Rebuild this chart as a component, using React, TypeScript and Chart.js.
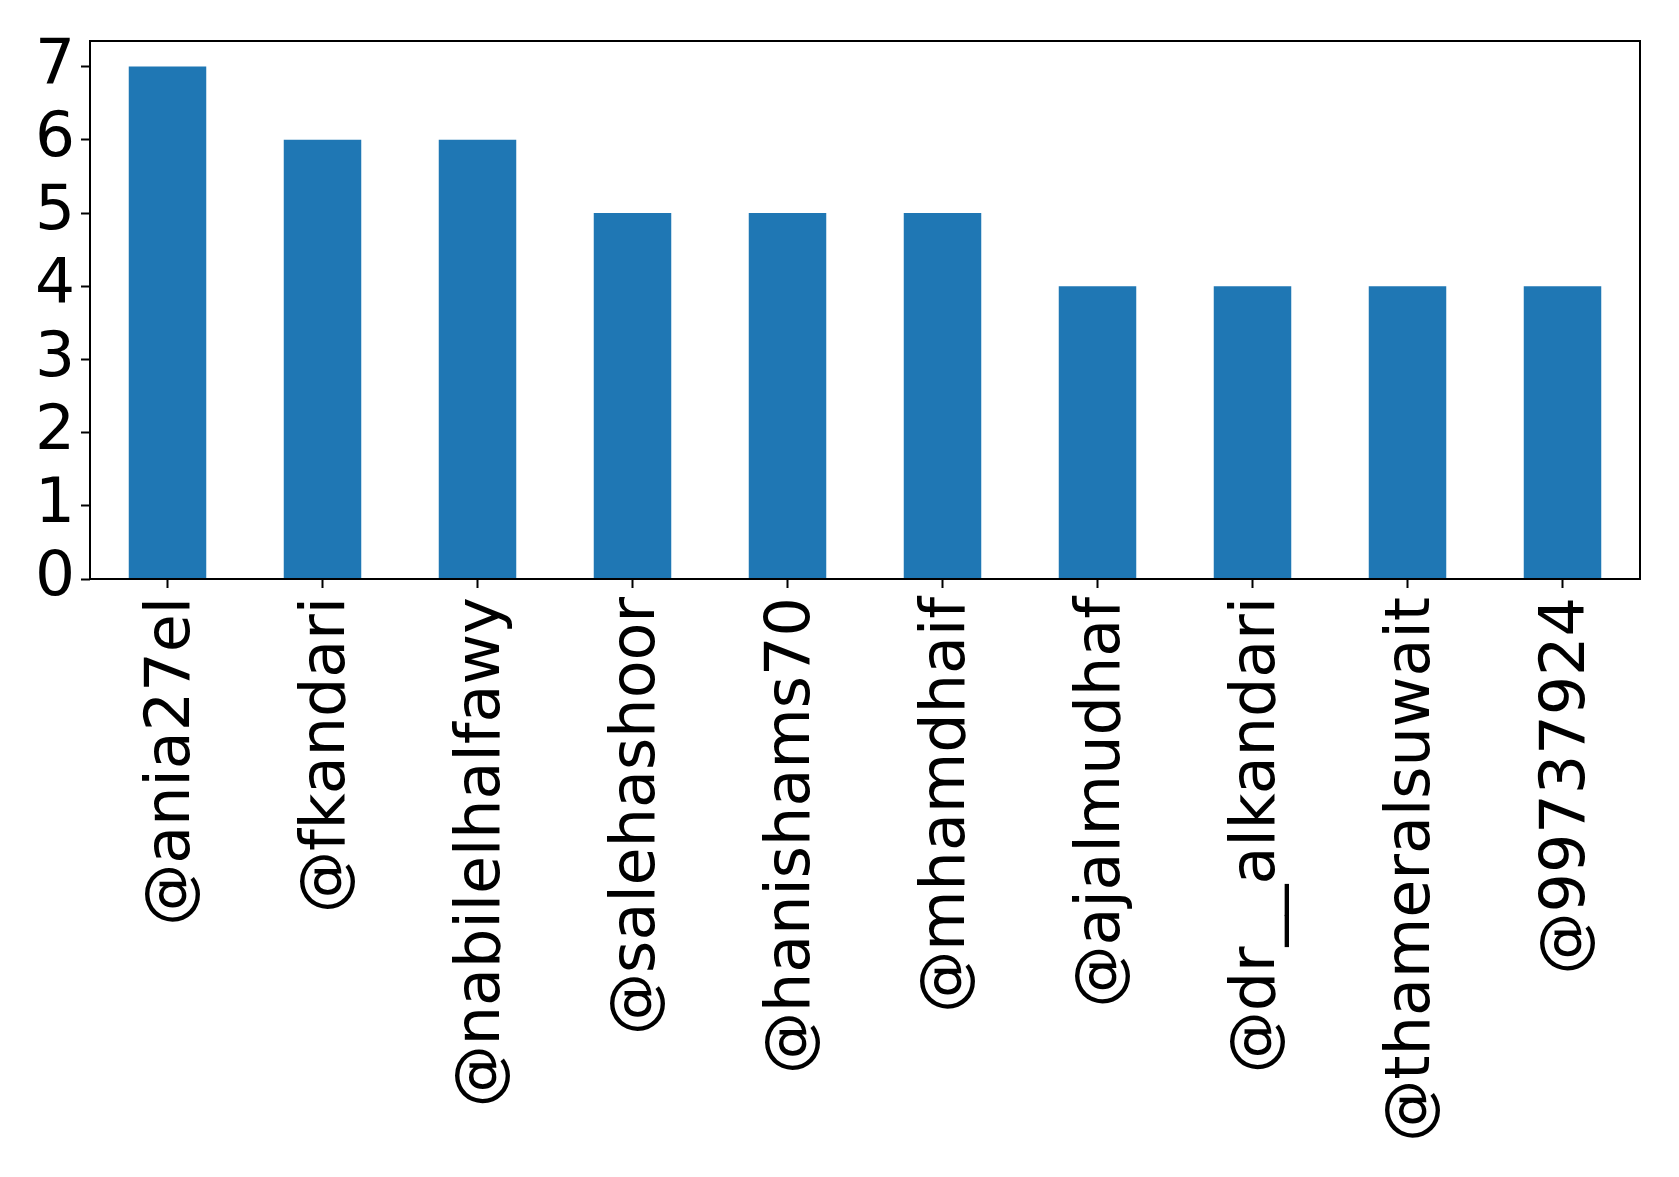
import React, { useEffect, useRef } from "react";
import { Chart, registerables } from "chart.js";

Chart.register(...registerables);

const accounts = [
  "@ania27el",
  "@fkandari",
  "@nabilelhalfawy",
  "@salehashoor",
  "@hanishams70",
  "@mhamdhaif",
  "@ajalmudhaf",
  "@dr__alkandari",
  "@thameralsuwait",
  "@99737924",
];
const counts = [7, 6, 6, 5, 5, 5, 4, 4, 4, 4];
const yTicks = [0, 1, 2, 3, 4, 5, 6, 7];
const yMax = 7.35;

const W = 1679;
const H = 1177;
const FONT = "'DejaVu Sans'";

// Draws the full box around the plot area
const frame = {
  id: "frame",
  afterDraw(chart: any) {
    const { ctx, chartArea: a } = chart;
    ctx.save();
    ctx.strokeStyle = "#000";
    ctx.lineWidth = 2;
    ctx.strokeRect(a.left, a.top, a.right - a.left, a.bottom - a.top);
    ctx.restore();
  },
};

export default function App() {
  const ref = useRef<HTMLCanvasElement>(null);

  useEffect(() => {
    if (!ref.current) return;
    const chart = new Chart(ref.current, {
      type: "bar",
      data: {
        labels: accounts,
        datasets: [
          {
            data: counts,
            backgroundColor: "#1f77b4",
            barPercentage: 0.5,
            categoryPercentage: 1,
          },
        ],
      },
      options: {
        responsive: false,
        animation: false,
        layout: { padding: { top: 41, right: 39, left: 0, bottom: 0 } },
        plugins: { legend: { display: false }, tooltip: { enabled: false } },
        scales: {
          x: {
            offset: true,
            grid: {
              drawOnChartArea: false,
              drawTicks: true,
              tickLength: 9,
              tickWidth: 2,
              tickColor: "#000",
              offset: false,
            },
            border: { display: false },
            ticks: {
              color: "#000",
              font: { family: FONT, size: 62 },
              maxRotation: 90,
              minRotation: 90,
              autoSkip: false,
              padding: 9,
              labelOffset: 5,
            },
            afterFit(scale: any) {
              scale.height = H - 579;
              scale.paddingLeft = 0;
              scale.paddingRight = 0;
            },
          },
          y: {
            min: 0,
            max: yMax,
            grid: {
              drawOnChartArea: false,
              drawTicks: true,
              tickLength: 9,
              tickWidth: 2,
              tickColor: "#000",
            },
            border: { display: false },
            ticks: {
              color: "#000",
              font: { family: FONT, size: 63 },
              padding: 6,
              stepSize: 1,
              autoSkip: false,
            },
            afterBuildTicks(scale: any) {
              scale.ticks = yTicks.map((v) => ({ value: v }));
            },
            afterFit(scale: any) {
              scale.width = 90;
              scale.paddingTop = 0;
              scale.paddingBottom = 0;
            },
          },
        },
      },
      plugins: [frame],
    });
    return () => chart.destroy();
  }, []);

  return (
    <div style={{ position: "absolute", left: 0, top: 0, width: W, height: H, background: "#fff" }}>
      <canvas ref={ref} width={W} height={H} style={{ display: "block" }} />
    </div>
  );
}
